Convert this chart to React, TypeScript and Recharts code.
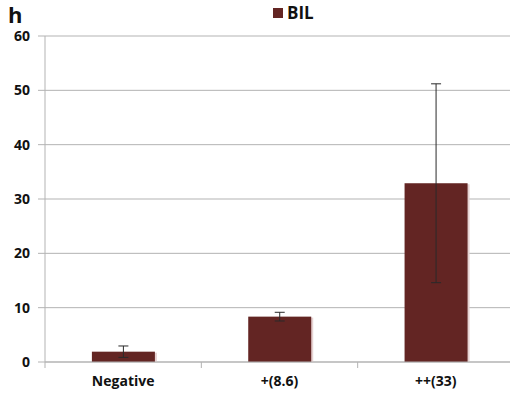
import { BarChart, Bar, XAxis, YAxis, CartesianGrid, ErrorBar } from 'recharts'

const categories = ['Negative', '+(8.6)', '++(33)']
const bilValues = [1.9, 8.35, 32.9]
const bilErrors = [1.05, 0.8, 18.3]
const yTicks = [0, 10, 20, 30, 40, 50, 60]

const data = categories.map((name, i) => ({ name, BIL: bilValues[i], err: bilErrors[i] }))

const W = 510
const H = 394
// plot runs a little past the right edge and gets clipped
const CHART_W = 514
const AXIS_W = 45
const BAND = (CHART_W - AXIS_W) / categories.length
const BAR_COLOR = '#632523'
const GRID = '#b3b3b3'
const FONT = '"Open Sans", "Noto Sans", sans-serif'

function ShadowBar(props: any) {
  const { x, y, width, height } = props
  if (height <= 0) return null
  return (
    <g>
      <rect x={x + 2} y={y + 1} width={width} height={height - 1} fill="#e6d2d2" />
      <rect x={x} y={y} width={width} height={height} fill={BAR_COLOR} />
    </g>
  )
}

function CategoryTick(props: any) {
  const { x, y, payload } = props
  const left = x - BAND / 2
  return (
    <g>
      <line x1={left} y1={y - 8} x2={left} y2={y - 2} stroke={GRID} />
      <text x={x} y={y + 16} textAnchor="middle" fontSize={14} fontWeight={700}
        fontFamily={FONT} fill="#111">
        {payload.value}
      </text>
    </g>
  )
}

export default function App() {
  return (
    <div style={{ position: 'absolute', left: 0, top: 0, width: W, height: H, background: '#fff', overflow: 'hidden' }}>
      <div style={{ position: 'absolute', left: 8, top: 3, fontFamily: FONT, fontWeight: 700,
        fontSize: 22, color: '#111', lineHeight: '22px' }}>
        h
      </div>
      {/* series key */}
      <div style={{ position: 'absolute', left: 273, top: 3, display: 'flex', alignItems: 'center',
        fontFamily: FONT, fontWeight: 700, fontSize: 17, color: '#111', lineHeight: '20px' }}>
        <span style={{ width: 10, height: 10, background: BAR_COLOR, marginRight: 4, display: 'inline-block' }} />
        BIL
      </div>
      <BarChart width={CHART_W} height={H} data={data}
        margin={{ top: 36, right: 0, bottom: 0, left: 0 }} barCategoryGap="30%">
        <CartesianGrid vertical={false} stroke={GRID} />
        <XAxis dataKey="name" height={32} axisLine={{ stroke: GRID }} tickLine={false}
          tick={<CategoryTick />} interval={0} />
        <YAxis width={AXIS_W} domain={[0, 60]} ticks={yTicks} axisLine={{ stroke: GRID }}
          tickLine={{ stroke: GRID }} tickSize={7} tickMargin={8}
          tick={{ fontSize: 14, fontWeight: 700, fill: '#111', fontFamily: FONT }} />
        <Bar dataKey="BIL" fill={BAR_COLOR} shape={<ShadowBar />} isAnimationActive={false}>
          <ErrorBar dataKey="err" width={5} stroke="#2a2a2a" strokeWidth={1} />
        </Bar>
      </BarChart>
    </div>
  )
}
